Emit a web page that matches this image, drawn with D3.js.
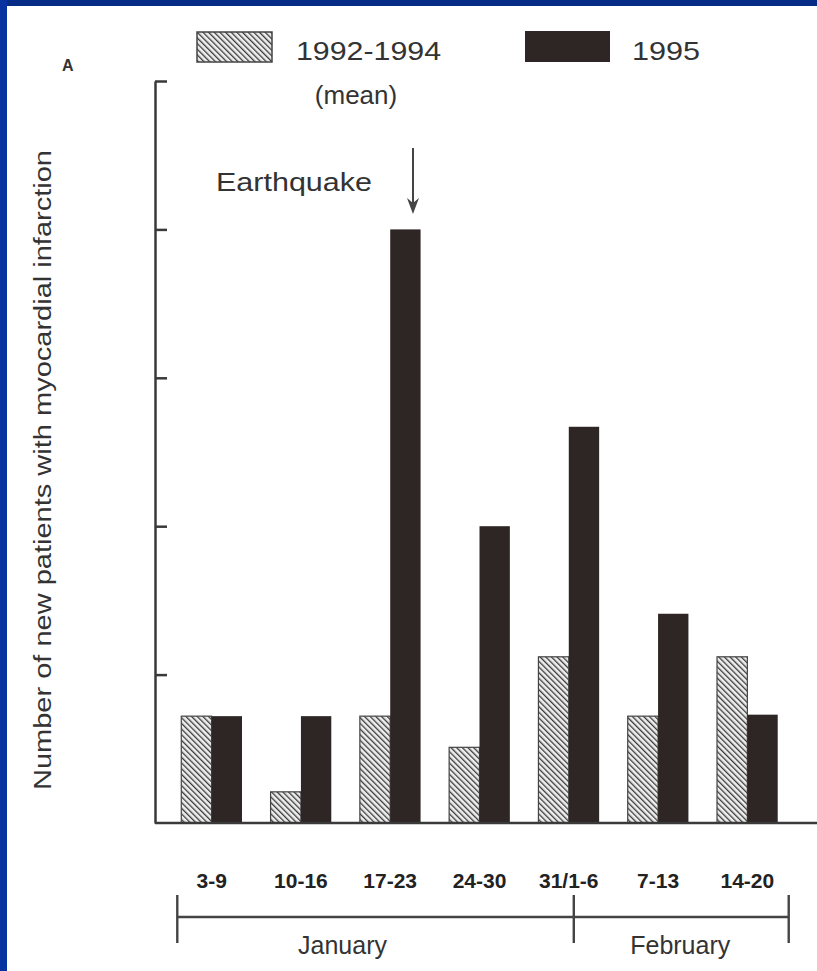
<!DOCTYPE html>
<html lang="en">
<head>
<meta charset="UTF-8">
<title>Myocardial infarction and the earthquake</title>
<script src="https://d3js.org/d3.v7.min.js"></script>
<style>
    body { margin: 0; background: #fff; }
    svg { display: block; font-family: "Liberation Sans", Arial, sans-serif; }
    .lbl { fill: #333; }
    .week { font-weight: bold; font-size: 21px; fill: #222; }
</style>
</head>
<body>
<div id="chart"></div>
<script>
    // data
    const weeks = ["3-9", "10-16", "17-23", "24-30", "31/1-6", "7-13", "14-20"];
    const series = ["1992-1994", "1995"];
    const mean9294 = [3.6, 1.05, 3.6, 2.55, 5.6, 3.6, 5.6];
    const counts1995 = [3.6, 3.6, 20, 10, 13.35, 7.05, 3.65];
    const yTicks = [5, 10, 15, 20, 25];
    const months = ["January", "February"];

    const W = 817, H = 971;
    const svg = d3.select("#chart").append("svg")
        .attr("width", W).attr("height", H);

    // hatch for the 1992-1994 mean
    const defs = svg.append("defs");
    const pat = defs.append("pattern")
        .attr("id", "hatch")
        .attr("patternUnits", "userSpaceOnUse")
        .attr("width", 4).attr("height", 4)
        .attr("patternTransform", "rotate(-45)");
    pat.append("rect").attr("width", 4).attr("height", 4).attr("fill", "#eeeeee");
    pat.append("line")
        .attr("x1", 0).attr("y1", 0).attr("x2", 0).attr("y2", 4)
        .attr("stroke", "#3a3a3a").attr("stroke-width", 2.6);

    // blue slide frame (left and top)
    svg.append("rect").attr("x", 0).attr("y", 0).attr("width", W).attr("height", 6).attr("fill", "#062b86");
    svg.append("rect").attr("x", 0).attr("y", 0).attr("width", 7).attr("height", H).attr("fill", "#0633a0");

    const x = d3.scaleBand()
        .domain(weeks)
        .range([167, 792])
        .paddingInner(0.32)
        .paddingOuter(0.16);

    const xs = d3.scaleBand()
        .domain(series)
        .range([0, x.bandwidth()]);

    const y = d3.scaleLinear()
        .domain([0, 25])
        .range([823, 81]);

    const rows = weeks.map((w, i) => ({ week: w, values: [mean9294[i], counts1995[i]] }));

    // bars
    const groups = svg.append("g").selectAll("g")
        .data(rows)
        .join("g")
        .attr("transform", d => `translate(${x(d.week)},0)`);

    groups.selectAll("rect")
        .data(d => d.values.map((v, j) => ({ key: series[j], v })))
        .join("rect")
        .attr("x", d => xs(d.key))
        .attr("width", xs.bandwidth())
        .attr("y", d => y(d.v))
        .attr("height", d => y(0) - y(d.v))
        .attr("fill", d => d.key === series[0] ? "url(#hatch)" : "#2d2624")
        .attr("stroke", d => d.key === series[0] ? "#444" : "none")
        .attr("stroke-width", 1.2);

    // y axis, ticks pointing inward, no labels
    svg.append("g")
        .attr("transform", `translate(155,0)`)
        .call(d3.axisRight(y).tickValues(yTicks).tickSize(12).tickSizeOuter(0).tickFormat(""))
        .call(g => g.selectAll("line, path").attr("stroke", "#3a3a3a").attr("stroke-width", 2.5));

    // baseline
    svg.append("line")
        .attr("x1", 155).attr("x2", W)
        .attr("y1", y(0)).attr("y2", y(0))
        .attr("stroke", "#3a3a3a").attr("stroke-width", 2.5);

    // week labels
    svg.append("g").selectAll("text")
        .data(weeks)
        .join("text")
        .attr("class", "week")
        .attr("x", d => x(d) + x.bandwidth() / 2)
        .attr("y", 888)
        .attr("text-anchor", "middle")
        .text(d => d);

    // month bracket
    const bx0 = x(weeks[0]) - 4;
    const bx1 = x("31/1-6") + x.bandwidth() / 2 + 5;
    const bx2 = x(weeks[weeks.length - 1]) + x.bandwidth() + 11;
    const bracket = svg.append("g").attr("stroke", "#444").attr("stroke-width", 2.4);
    bracket.append("line").attr("x1", bx0).attr("x2", bx2).attr("y1", 917).attr("y2", 917);
    [bx0, bx1, bx2].forEach(bx => {
        bracket.append("line").attr("x1", bx).attr("x2", bx).attr("y1", 895).attr("y2", 943);
    });
    svg.append("g").selectAll("text")
        .data(months)
        .join("text")
        .attr("class", "lbl")
        .attr("font-size", 25)
        .attr("x", (d, i) => i === 0 ? (bx0 + bx1) / 2 - 33 : (bx1 + bx2) / 2 - 1)
        .attr("y", 954)
        .attr("text-anchor", "middle")
        .text(d => d);

    // y title
    svg.append("text")
        .attr("class", "lbl")
        .attr("font-size", 23)
        .attr("transform", "translate(51,470) rotate(-90)")
        .attr("text-anchor", "middle")
        .attr("textLength", 640)
        .attr("lengthAdjust", "spacingAndGlyphs")
        .text("Number of new patients with myocardial infarction");

    // panel letter
    svg.append("text")
        .attr("x", 62).attr("y", 71)
        .attr("font-size", 16).attr("font-weight", "bold").attr("fill", "#333")
        .text("A");

    // legend
    const legend = svg.append("g");
    legend.append("rect")
        .attr("x", 197).attr("y", 32).attr("width", 75).attr("height", 30)
        .attr("fill", "url(#hatch)").attr("stroke", "#444").attr("stroke-width", 1.5);
    legend.append("text")
        .attr("class", "lbl").attr("font-size", 26)
        .attr("x", 296).attr("y", 60)
        .attr("textLength", 145).attr("lengthAdjust", "spacingAndGlyphs")
        .text(series[0]);
    legend.append("text")
        .attr("class", "lbl").attr("font-size", 26)
        .attr("x", 356).attr("y", 104)
        .attr("text-anchor", "middle")
        .text("(mean)");
    legend.append("rect")
        .attr("x", 525).attr("y", 31).attr("width", 85).attr("height", 31)
        .attr("fill", "#2d2624");
    legend.append("text")
        .attr("class", "lbl").attr("font-size", 26)
        .attr("x", 632).attr("y", 60)
        .attr("textLength", 68).attr("lengthAdjust", "spacingAndGlyphs")
        .text(series[1]);

    // earthquake arrow over the 17-23 week
    const ax = x("17-23") + xs("1995") + xs.bandwidth() * 0.75;
    svg.append("line")
        .attr("x1", ax).attr("x2", ax)
        .attr("y1", 148).attr("y2", 206)
        .attr("stroke", "#444").attr("stroke-width", 2);
    svg.append("path")
        .attr("d", `M${ax - 6},198 L${ax},214 L${ax + 6},198 L${ax},203 Z`)
        .attr("fill", "#444");
    svg.append("text")
        .attr("class", "lbl").attr("font-size", 26)
        .attr("x", 216).attr("y", 191)
        .attr("textLength", 156).attr("lengthAdjust", "spacingAndGlyphs")
        .text("Earthquake");
</script>
</body>
</html>
